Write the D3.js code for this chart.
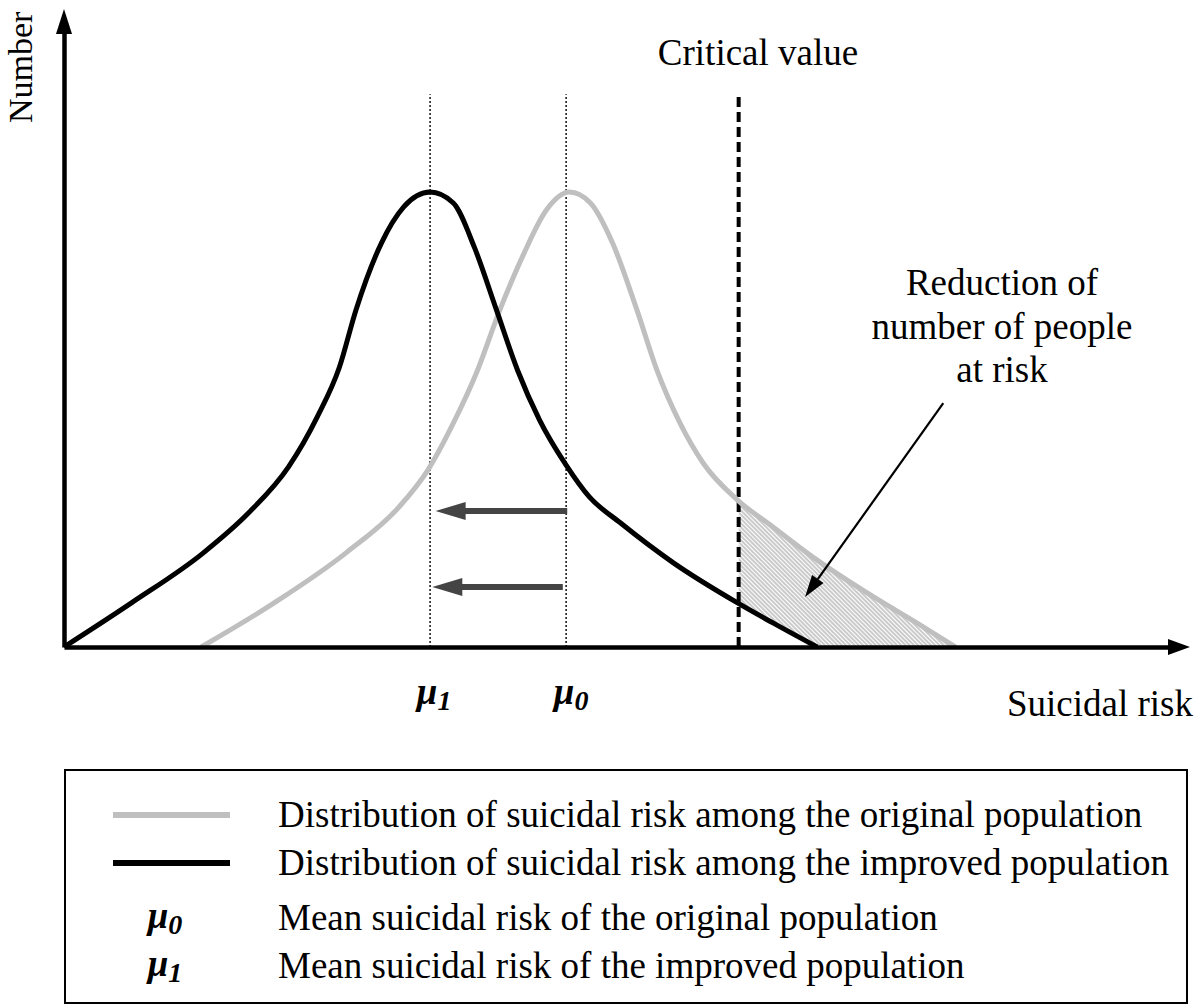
<!DOCTYPE html>
<html><head><meta charset="utf-8">
<script src="https://cdn.jsdelivr.net/npm/d3@7"></script>
<style>
body{margin:0;background:#fff}
text{font-family:"Liberation Serif","Times New Roman",serif;fill:#000}
</style>
</head><body>
<svg id="c" width="1200" height="1008"></svg>
<script>
// ---- data (risk units on x, relative number on y; peak = 100) ----
const improvedX = [0, 6.1, 12.6, 16.7, 20.3, 22.9, 24.9, 26.4, 28.7, 30.7, 33.1, 35.2, 37.1, 39.1, 41.0, 43.0, 45.4, 47.5, 50.3, 55.1, 60.9, 64.1, 68.1];
const improvedY = [0, 9.7, 20.7, 29.5, 39.6, 50.6, 61.5, 74.1, 88.8, 96.7, 100, 97.6, 87.9, 74.1, 60.9, 49.9, 40.0, 33.0, 27.3, 18.5, 9.7, 5.3, 0];
const originalX = [12.4, 19.0, 25.5, 30.3, 32.9, 35.2, 37.4, 39.3, 41.6, 43.6, 45.7, 47.6, 49.6, 51.8, 53.6, 55.7, 57.8, 60.9, 64.1, 68.1, 73.2, 77.1, 80.6];
const originalY = [0, 9.7, 20.7, 30.8, 38.9, 49.2, 60.9, 73.4, 86.6, 96.0, 100, 97.6, 88.8, 74.1, 60.9, 49.2, 40.4, 32.3, 26.4, 19.1, 11.0, 5.3, 0];
const mu1 = 33.1, mu0 = 45.4, criticalValue = 61.0;
const guideTop = 121.5;
const shiftArrowLevels = [29.9, 13.2];
const shiftArrowFrom = [45.5, 45.1];
const shiftArrowTo = [33.6, 33.3];
const noteArrowFrom = [79.5, 53.6], noteArrowTo = [67.0, 11.0];
const axisTitles = {x: "Suicidal risk", y: "Number", critical: "Critical value"};
const noteLines = ["Reduction of", "number of people", "at risk"];
const legendLines = [
  "Distribution of suicidal risk among the original population",
  "Distribution of suicidal risk among the improved population",
  "Mean suicidal risk of the original population",
  "Mean suicidal risk of the improved population"];
const legendSymbols = [null, null, "0", "1"];

// ---- drawing ----
const svg = d3.select("#c");
const x = d3.scaleLinear().domain([0, 100]).range([64, 1170]);
const y = d3.scaleLinear().domain([0, 135.2]).range([647, 32]);
const GRAY = "#bfbfbf";

const defs = svg.append("defs");
const pat = defs.append("pattern").attr("id", "hatch").attr("width", 3).attr("height", 3)
  .attr("patternUnits", "userSpaceOnUse").attr("patternTransform", "rotate(-45)");
pat.append("line").attr("x1", 1).attr("y1", 0).attr("x2", 1).attr("y2", 3)
  .attr("stroke", "#8a8a8a").attr("stroke-width", 0.9);
defs.append("clipPath").attr("id", "rightOfCrit").append("rect")
  .attr("x", x(criticalValue)).attr("y", 0).attr("width", 1200).attr("height", y(0) - 1);

const improved = improvedX.map((v, i) => [v, improvedY[i]]);
const original = originalX.map((v, i) => [v, originalY[i]]);
const curve = d3.curveMonotoneX;
const line = d3.line().x(d => x(d[0])).y(d => y(d[1])).curve(curve);
const area = d3.area().x(d => x(d[0])).y0(y(0)).y1(d => y(d[1])).curve(curve);

// hatched region: under original, above improved, right of critical value
const hg = svg.append("g").attr("clip-path", "url(#rightOfCrit)");
hg.append("path").attr("d", area(original)).attr("fill", "url(#hatch)");
hg.append("path").attr("d", area(improved)).attr("fill", "#fff");

// dotted mean lines
[mu1, mu0].forEach(m => {
  svg.append("line").attr("x1", x(m)).attr("x2", x(m)).attr("y1", y(0)).attr("y2", y(guideTop))
    .attr("stroke", "#111").attr("stroke-width", 1.5).attr("stroke-dasharray", "2,2");
});
// critical value dashed line
svg.append("line").attr("x1", x(criticalValue)).attr("x2", x(criticalValue))
  .attr("y1", y(0)).attr("y2", y(guideTop))
  .attr("stroke", "#000").attr("stroke-width", 4).attr("stroke-dasharray", "10,5");

// curves
svg.append("path").attr("d", line(original)).attr("fill", "none").attr("stroke", GRAY).attr("stroke-width", 5);
svg.append("path").attr("d", line(improved)).attr("fill", "none").attr("stroke", "#000").attr("stroke-width", 5);

// shift arrows
shiftArrowLevels.forEach((lv, i) => {
  const yy = y(lv), x0 = x(shiftArrowFrom[i]), x1 = x(shiftArrowTo[i]);
  svg.append("line").attr("x1", x0).attr("x2", x1 + 20).attr("y1", yy).attr("y2", yy)
    .attr("stroke", "#444").attr("stroke-width", 6);
  svg.append("path").attr("d", `M${x1},${yy} L${x1 + 30},${yy - 9} L${x1 + 30},${yy + 9} Z`).attr("fill", "#444");
});

// axes
const xAxis = d3.axisBottom(x).tickValues([]).tickSizeOuter(0);
const yAxis = d3.axisLeft(y).tickValues([]).tickSizeOuter(0);
const gx = svg.append("g").attr("transform", `translate(0,${y(0)})`).call(xAxis);
const gy = svg.append("g").attr("transform", `translate(${x(0)},0)`).call(yAxis);
gx.select(".domain").attr("stroke", "#000").attr("stroke-width", 4.5);
gy.select(".domain").attr("stroke", "#000").attr("stroke-width", 4.5);
const xr = x.range()[1], yr = y.range()[1];
svg.append("path").attr("d", `M${xr - 2},${y(0) - 8} L${xr + 20},${y(0)} L${xr - 2},${y(0) + 8} Z`).attr("fill", "#000");
svg.append("path").attr("d", `M${x(0) - 8},${yr + 2} L${x(0)},${yr - 23} L${x(0) + 8},${yr + 2} Z`).attr("fill", "#000");

// annotation arrow
{
  const ax0 = x(noteArrowFrom[0]), ay0 = y(noteArrowFrom[1]);
  const ax1 = x(noteArrowTo[0]), ay1 = y(noteArrowTo[1]);
  const ang = Math.atan2(ay1 - ay0, ax1 - ax0);
  const L = 22, W = 7;
  const bx = ax1 - L * Math.cos(ang), by = ay1 - L * Math.sin(ang);
  svg.append("line").attr("x1", ax0).attr("y1", ay0).attr("x2", bx).attr("y2", by)
    .attr("stroke", "#000").attr("stroke-width", 2.2);
  const px = -Math.sin(ang) * W, py = Math.cos(ang) * W;
  svg.append("path").attr("d", `M${ax1},${ay1} L${bx + px},${by + py} L${bx - px},${by - py} Z`).attr("fill", "#000");
}

// texts
const FS = 37;
svg.append("text").attr("x", 758).attr("y", 65).attr("text-anchor", "middle").attr("font-size", FS).text(axisTitles.critical);
svg.append("text").attr("x", 1100).attr("y", 716).attr("text-anchor", "middle").attr("font-size", FS).text(axisTitles.x);
svg.append("text").attr("transform", "translate(32,123) rotate(-90)").attr("font-size", 34).text(axisTitles.y);
noteLines.forEach((t, i) => {
  svg.append("text").attr("x", 1002).attr("y", 295 + i * 43.5).attr("text-anchor", "middle").attr("font-size", FS).text(t);
});
function muLabel(g, cx, cy, sub) {
  const t = g.append("text").attr("x", cx).attr("y", cy).attr("text-anchor", "middle")
    .attr("font-size", FS).attr("font-weight", "bold").attr("font-style", "italic");
  t.append("tspan").text("μ");
  t.append("tspan").attr("font-size", 28).attr("dy", 6).text(sub);
}
muLabel(svg, x(mu1) + 4, 704, "1");
muLabel(svg, x(mu0) + 5, 704, "0");

// legend
const lg = svg.append("g");
lg.append("rect").attr("x", 65).attr("y", 770).attr("width", 1122).attr("height", 233)
  .attr("fill", "none").attr("stroke", "#000").attr("stroke-width", 2);
const rowY = [815, 863, 918, 966];
lg.append("line").attr("x1", 113).attr("x2", 230).attr("y1", rowY[0]).attr("y2", rowY[0]).attr("stroke", GRAY).attr("stroke-width", 6);
lg.append("line").attr("x1", 113).attr("x2", 230).attr("y1", rowY[1]).attr("y2", rowY[1]).attr("stroke", "#000").attr("stroke-width", 6);
legendLines.forEach((t, i) => {
  lg.append("text").attr("x", 278).attr("y", rowY[i] + 12).attr("font-size", FS).text(t);
  if (legendSymbols[i] !== null) muLabel(lg, 165, rowY[i] + 10, legendSymbols[i]);
});
</script>
</body></html>
